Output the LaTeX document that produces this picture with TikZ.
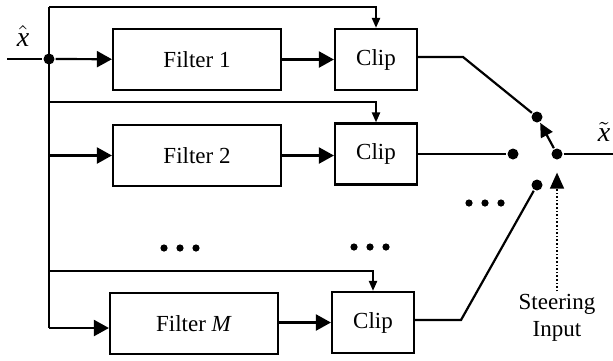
\documentclass[tikz,border=0pt]{standalone}
\usepackage{fontspec}
\setmainfont{Liberation Serif}
\usetikzlibrary{arrows.meta}

\tikzset{
    blk/.style={draw=black,line width=1.1pt,minimum height=30.5pt,inner sep=0pt},
    filt/.style={blk,minimum width=84pt},
    clp/.style={blk,minimum width=41pt},
    arr/.style={-{Triangle[length=7.5pt,width=8pt]}},
    feed/.style={-{Triangle[length=5pt,width=4pt]}},
    dot/.style={circle,fill=black,inner sep=0pt,minimum size=5.5pt},
    xlab/.style={font=\fontsize{14}{16}\selectfont}
}

\begin{document}
\begin{tikzpicture}[x=0.5pt,y=-0.5pt,line width=1.1pt,font=\fontsize{11.5}{13.5}\selectfont]
    	\useasboundingbox (0,0) rectangle (613,360);
    	
    	\node[filt] (f1) at (197, 59.5)   {Filter 1};
    	\node[clp]  (c1) at (376, 59.5)   {Clip};
    	\node[filt] (f2) at (197, 155.5)  {Filter 2};
    	\node[clp]  (c2) at (376, 154)    {Clip};
    	\node[filt] (fM) at (194, 323.5)  {Filter \textit{M}};
    	\node[clp]  (cM) at (373, 322.5)  {Clip};
    	
    	\coordinate (in)  at (7, 59);
    	\node[dot]  (j)   at (49, 59) {};
    	\coordinate (top) at (49, 7);
    	\coordinate (b2)  at (49, 102);
    	\coordinate (b3)  at (49, 271);
    	\coordinate (bot) at (49, 328);
    	\node[xlab] (xh) at (23, 36) {$\hat{\mbox{\itshape x}}$};
    	
    	% switch
    	\node[dot] (t) at (537, 117) {};
    	\node[dot] (m) at (513, 154) {};
    	\node[dot] (b) at (537, 185) {};
    	\node[dot] (p) at (557, 154) {};
    	\coordinate (out) at (613, 154);
    	\node[xlab] (xt) at (604, 132) {$\tilde{\mbox{\itshape x}}$};
    	\node[align=center,inner sep=1pt] (si) at (557, 318) {Steering\\Input};
    	
    	% feed lines
    	\draw (in) -- (j);
    	\draw (top) -- (bot);
    	\draw[feed] (top) -| (c1.north);
    	\draw[feed] (b2) -| (c2.north);
    	\draw[feed] (b3) -| (cM.north);
    	
    	\draw[arr] (j) -- (f1);
    	\draw[arr] (f2.west -| top) -- (f2.west);
    	\draw[arr] (bot) -- (fM.west |- bot);
    	
    	\draw[arr] (f1) -- (c1);
    	\draw[arr] (f2.east) -- (c2.west |- f2.east);
    	\draw[arr] (fM.east |- cM.west) -- (cM.west);
    	
    	% outputs to switch
    	\draw (c1.east |- 0,57) -- (463, 57) -- (t);
    	\draw (c2) -- (m);
    	\draw (cM.east |- 0,320) -- (461, 320) -- (b);
    	\draw (p) -- (out);
    	\draw[-{Triangle[length=7pt,width=6.5pt]}] (p) -- (t);
    	\draw[densely dotted,line width=0.8pt,-{Triangle[length=8pt,width=7pt]},shorten >=6pt] (si.north -| p) -- (p);
    	
    	% dots
    	\foreach \x in {164, 180, 196} \fill (\x, 248) circle (1.8pt);
    	\foreach \x in {354, 370, 386} \fill (\x, 247) circle (1.8pt);
    	\foreach \x in {469, 485, 501} \fill (\x, 203) circle (1.8pt);
    
\end{tikzpicture}
\end{document}
